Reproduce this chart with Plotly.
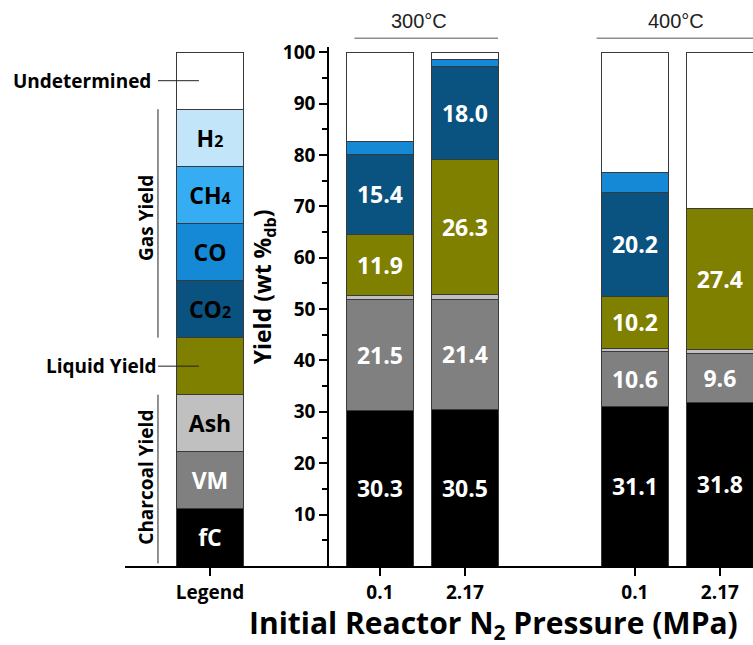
import plotly.graph_objects as go

# ---- data -------------------------------------------------------------
categories = ["Legend", "gap_a", "300|0.1", "300|2.17", "gap_b", "400|0.1", "400|2.17"]
tick_cats = ["Legend", "300|0.1", "300|2.17", "400|0.1", "400|2.17"]
tick_text = ["Legend", "0.1", "2.17", "0.1", "2.17"]

# yields (wt % db) for the four runs: 300°C 0.1, 300°C 2.17, 400°C 0.1, 400°C 2.17
fC = [30.3, 30.5, 31.1, 31.8]
VM = [21.5, 21.4, 10.6, 9.6]
Ash = [0.9, 1.0, 0.6, 0.8]
Liquid = [11.9, 26.3, 10.2, 27.4]
CO2 = [15.4, 18.0, 20.2, 0.0]
CO = [2.6, 1.4, 3.9, 0.0]
CH4 = [0.0, 0.0, 0.0, 0.0]
H2 = [0.0, 0.0, 0.0, 0.0]
Undetermined = [17.4, 1.4, 23.4, 30.4]

# components drawn bottom -> top: (name, values, colour, legend-bar label, label colour, show values)
components = [
    ("fC", fC, "#000000", "fC", "white", True),
    ("VM", VM, "#808080", "VM", "white", True),
    ("Ash", Ash, "#C0C0C0", "Ash", "black", False),
    ("Liquid", Liquid, "#7F7F00", None, "black", True),
    ("CO2", CO2, "#0A5280", "CO<span style='font-size:16px'>2</span>", "black", True),
    ("CO", CO, "#1589D6", "CO", "black", False),
    ("CH4", CH4, "#36ADF2", "CH<span style='font-size:16px'>4</span>", "black", False),
    ("H2", H2, "#C2E5FA", "H<span style='font-size:16px'>2</span>", "black", False),
    ("Undetermined", Undetermined, "#FFFFFF", None, "black", False),
]
n_parts = len(components)
legend_seg = 100.0 / n_parts  # equal-height blocks in the legend column

FONT = "Open Sans"

fig = go.Figure()
data_cats = ["300|0.1", "300|2.17", "400|0.1", "400|2.17"]
for name, vals, color, leg_label, leg_col, show_vals in components:
    xs = ["Legend"] + data_cats
    ys = [legend_seg] + list(vals)
    texts = [leg_label] + [
        (f"{v:.1f}" if (show_vals and v > 0) else None) for v in vals
    ]
    tcolors = [leg_col] + ["white"] * len(vals)
    tsizes = [23] + [23] * len(vals)
    fig.add_trace(go.Bar(
        x=xs, y=ys, name=name,
        marker=dict(color=color, line=dict(color="#3a3a3a", width=1)),
        width=0.78,
        text=texts, textposition="inside", insidetextanchor="middle",
        textangle=0, constraintext="none",
        textfont=dict(family=FONT, size=tsizes, color=tcolors, weight="bold"),
        hoverinfo="name+y",
        showlegend=False,
    ))

# ---- decorations ------------------------------------------------------
shapes = []
annotations = []
line_style = dict(color="#222222", width=1)

# left-hand legend captions
x_bracket = -0.612
x_lead_end = -0.13
shapes.append(dict(type="line", xref="x", yref="y", x0=x_bracket, x1=x_lead_end,
                   y0=100 - legend_seg / 2, y1=100 - legend_seg / 2, line=line_style))
shapes.append(dict(type="line", xref="x", yref="y", x0=x_bracket, x1=x_lead_end,
                   y0=3.5 * legend_seg, y1=3.5 * legend_seg, line=line_style))
shapes.append(dict(type="line", xref="x", yref="y", x0=x_bracket, x1=x_bracket,
                   y0=4 * legend_seg, y1=8 * legend_seg, line=line_style))
shapes.append(dict(type="line", xref="x", yref="y", x0=x_bracket, x1=x_bracket,
                   y0=0.5, y1=3 * legend_seg, line=line_style))

lab_font = dict(family=FONT, size=19, color="black", weight="bold")
annotations += [
    dict(text="Undetermined", xref="x", yref="y", x=x_bracket - 0.06, y=100 - legend_seg / 2,
         xanchor="right", yanchor="middle", showarrow=False, font=lab_font),
    dict(text="Liquid Yield", xref="x", yref="y", x=x_bracket + 0.01, y=3.5 * legend_seg,
         xanchor="right", yanchor="middle", showarrow=False, font=lab_font),
    dict(text="Gas Yield", xref="x", yref="y", x=x_bracket - 0.15, y=6.1 * legend_seg,
         textangle=-90, xanchor="center", yanchor="middle", showarrow=False, font=lab_font),
    dict(text="Charcoal Yield", xref="x", yref="y", x=x_bracket - 0.15, y=1.55 * legend_seg,
         textangle=-90, xanchor="center", yanchor="middle", showarrow=False, font=lab_font),
]

# temperature group headers
hdr_font = dict(family="Liberation Sans", size=20, color="#222222")
for label, x0, x1, xc in [("300°C", 1.70, 3.39, 2.46), ("400°C", 4.55, 6.6, 5.48)]:
    shapes.append(dict(type="line", xref="x", yref="paper", x0=x0, x1=x1,
                       y0=1.017, y1=1.017, line=dict(color="#555555", width=1)))
    annotations.append(dict(text=label, xref="x", yref="paper", x=xc, y=1.05,
                            xanchor="center", yanchor="middle", showarrow=False, font=hdr_font))

# axis titles
annotations.append(dict(text="Yield (wt %<sub>db</sub>)", xref="x", yref="y", x=0.64, y=54.3,
                        textangle=-90, xanchor="center", yanchor="middle", showarrow=False,
                        font=dict(family=FONT, size=23, color="black", weight="bold")))
annotations.append(dict(text="Initial Reactor N<sub>2</sub> Pressure (MPa)", xref="paper", yref="paper",
                        x=0.587, y=-0.112, xanchor="center", yanchor="middle", showarrow=False,
                        font=dict(family=FONT, size=30, color="black", weight="bold")))

fig.update_layout(
    width=753, height=645,
    margin=dict(l=125, r=0, t=47, b=79),
    barmode="stack",
    plot_bgcolor="white", paper_bgcolor="white",
    shapes=shapes, annotations=annotations,
    xaxis=dict(
        type="category", categoryorder="array", categoryarray=categories,
        range=[-1, 6.39],
        tickmode="array", tickvals=tick_cats, ticktext=tick_text,
        ticks="outside", ticklen=8, tickwidth=1.5, tickcolor="black",
        showline=True, linecolor="black", linewidth=1.5,
        showgrid=False, zeroline=False,
        tickfont=dict(family=FONT, size=19, color="black", weight="bold"),
    ),
    yaxis=dict(
        range=[0, 101], anchor="free", position=(328 - 125) / 628,
        tickmode="array", tickvals=list(range(10, 101, 10)),
        ticks="outside", ticklen=8, tickwidth=1.5, tickcolor="black",
        minor=dict(tickvals=list(range(5, 100, 10)), ticks="outside", ticklen=5,
                   tickwidth=1.5, tickcolor="black"),
        showline=True, linecolor="black", linewidth=1.5,
        showgrid=False, zeroline=False,
        tickfont=dict(family=FONT, size=19, color="black", weight="bold"),
    ),
)

fig.write_html("out.html")
